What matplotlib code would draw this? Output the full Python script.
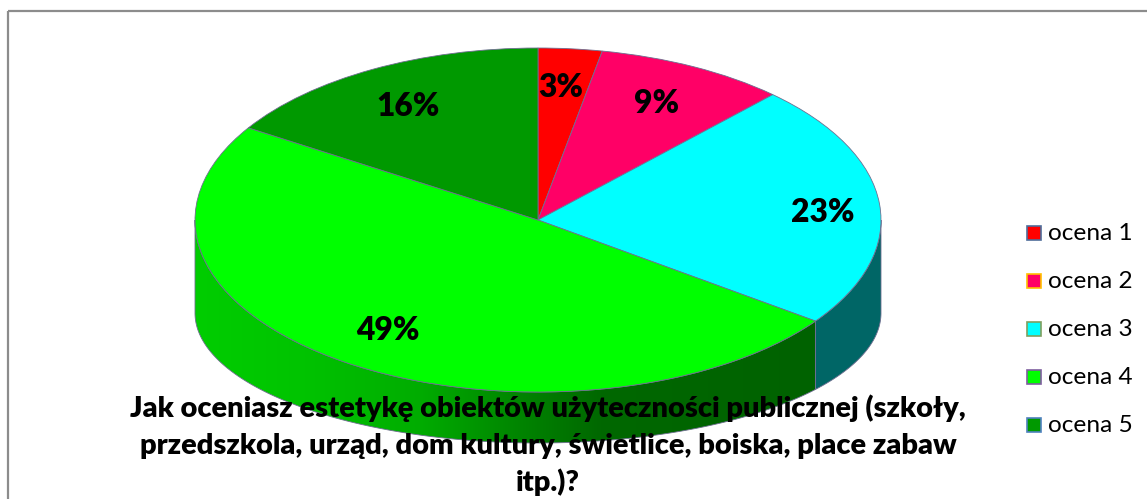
import numpy as np
import matplotlib
matplotlib.use("Agg")
import matplotlib.pyplot as plt
from matplotlib.patches import Wedge, Polygon, Rectangle
from matplotlib.transforms import Affine2D

# ---------------- data ----------------
categories = ["ocena 1", "ocena 2", "ocena 3", "ocena 4", "ocena 5"]
values = [3, 9, 23, 49, 16]
title_lines = [
    "Jak oceniasz estetykę obiektów użyteczności publicznej (szkoły,",
    "przedszkola, urząd, dom kultury, świetlice, boiska, place zabaw",
    "itp.)?",
]

# ---------------- style ----------------
top_colors = ["#FF0000", "#FF0066", "#00FFFF", "#00FF00", "#009900"]
side_colors = ["#990000", "#99003D", "#006666", None, "#005500"]  # None -> gradient
legend_edges = ["#4F6D9A", "#FFC000", "#7F9F5F", "#7F5F9F", "#4F81BD"]
edge_col = "#6E6E90"
label_pos = [(561, 87), (657, 103), (823, 212), (388, 331), (408, 106)]
HEAVY = "heavy"

W, H = 1147, 499
fig = plt.figure(figsize=(W / 100, H / 100), dpi=100)
ax = fig.add_axes([0, 0, 1, 1])
ax.set_xlim(0, W)
ax.set_ylim(H, 0)
ax.axis("off")

# chart frame (extends beyond the image at right/bottom)
ax.add_patch(Rectangle((7.5, 10.5), 1400, 800, fill=False,
                       edgecolor="#8C8C8C", lw=1.6, zorder=1))

# geometry of the 3D pie (pixels)
CX, CY, RX, RY = 538, 220, 343, 172
CYB, RXB, RYB = 313, 343, 130

vals = np.array(values, dtype=float)
cum = np.concatenate([[0], np.cumsum(vals / vals.sum())])
starts = 90 - 360 * cum[1:]
ends = 90 - 360 * cum[:-1]

top_tf = Affine2D().scale(RX, -RY).translate(CX, CY) + ax.transData

# ---- side walls (front half only) ----
for i in range(len(values)):
    for k in (-360, 0, 360):
        a = max(starts[i], -180 + k)
        b = min(ends[i], 0 + k)
        if b <= a:
            continue
        t = np.radians(np.linspace(a, b, 300))
        top = np.column_stack([CX + RX * np.cos(t), CY - RY * np.sin(t)])
        bot = np.column_stack([CX + RXB * np.cos(t), CYB - RYB * np.sin(t)])
        pts = np.vstack([top, bot[::-1]])
        if side_colors[i] is None:
            poly = Polygon(pts, closed=True, facecolor="none", edgecolor="none")
            ax.add_patch(poly)
            xs = np.linspace(pts[:, 0].min(), pts[:, 0].max(), 512)
            g = np.interp(xs, [195, 300, 420, 520, 600, 815],
                          [205, 196, 172, 132, 104, 98]) / 255.0
            img = np.zeros((1, xs.size, 3))
            img[0, :, 1] = g
            im = ax.imshow(img, extent=(xs[0], xs[-1], pts[:, 1].max(), pts[:, 1].min()),
                           aspect="auto", interpolation="bilinear", zorder=2)
            im.set_clip_path(poly)
            ax.add_patch(Polygon(pts, closed=True, facecolor="none",
                                 edgecolor=edge_col, lw=0.6, zorder=3))
        else:
            ax.add_patch(Polygon(pts, closed=True, facecolor=side_colors[i],
                                 edgecolor=edge_col, lw=0.6, zorder=3))

ax.set_xlim(0, W)
ax.set_ylim(H, 0)

# ---- top face ----
for i in range(len(values)):
    ax.add_patch(Wedge((0, 0), 1, starts[i], ends[i], transform=top_tf,
                       facecolor=top_colors[i], edgecolor=edge_col, lw=0.6, zorder=4))

fig.canvas.draw()
renderer = fig.canvas.get_renderer()


def fit(txt, target_w):
    for _ in range(3):
        bb = txt.get_window_extent(renderer)
        txt.set_fontsize(txt.get_fontsize() * target_w / bb.width)


# ---- percentage labels ----
for i, v in enumerate(values):
    t = ax.text(label_pos[i][0], label_pos[i][1], f"{v}%", ha="center", va="center",
                fontsize=24, fontweight=HEAVY, family="Lato", color="black", zorder=6)
    if i == 0:
        fit(t, 45)
        lab_fs = t.get_fontsize()
    else:
        t.set_fontsize(lab_fs)

# ---- title ----
title_y = [417, 454, 491]
tt = []
for line, y in zip(title_lines, title_y):
    tt.append(ax.text(548, y, line, ha="center", va="baseline", fontsize=18,
                      fontweight=HEAVY, family="Lato", color="black", zorder=7))
fit(tt[0], 835)
for t in tt[1:]:
    t.set_fontsize(tt[0].get_fontsize())

# ---- legend ----
leg_y0, leg_dy = 233, 48
lt = []
for i, name in enumerate(categories):
    y = leg_y0 + i * leg_dy
    ax.add_patch(Rectangle((1027, y - 7), 14, 14, facecolor=top_colors[i],
                           edgecolor=legend_edges[i], lw=1.2, zorder=6))
    lt.append(ax.text(1048, y, name, ha="left", va="center", fontsize=15,
                      family="Lato", color="black", zorder=6))
fit(lt[0], 84)
for t in lt[1:]:
    t.set_fontsize(lt[0].get_fontsize())

fig.savefig("out.png", dpi=100)
